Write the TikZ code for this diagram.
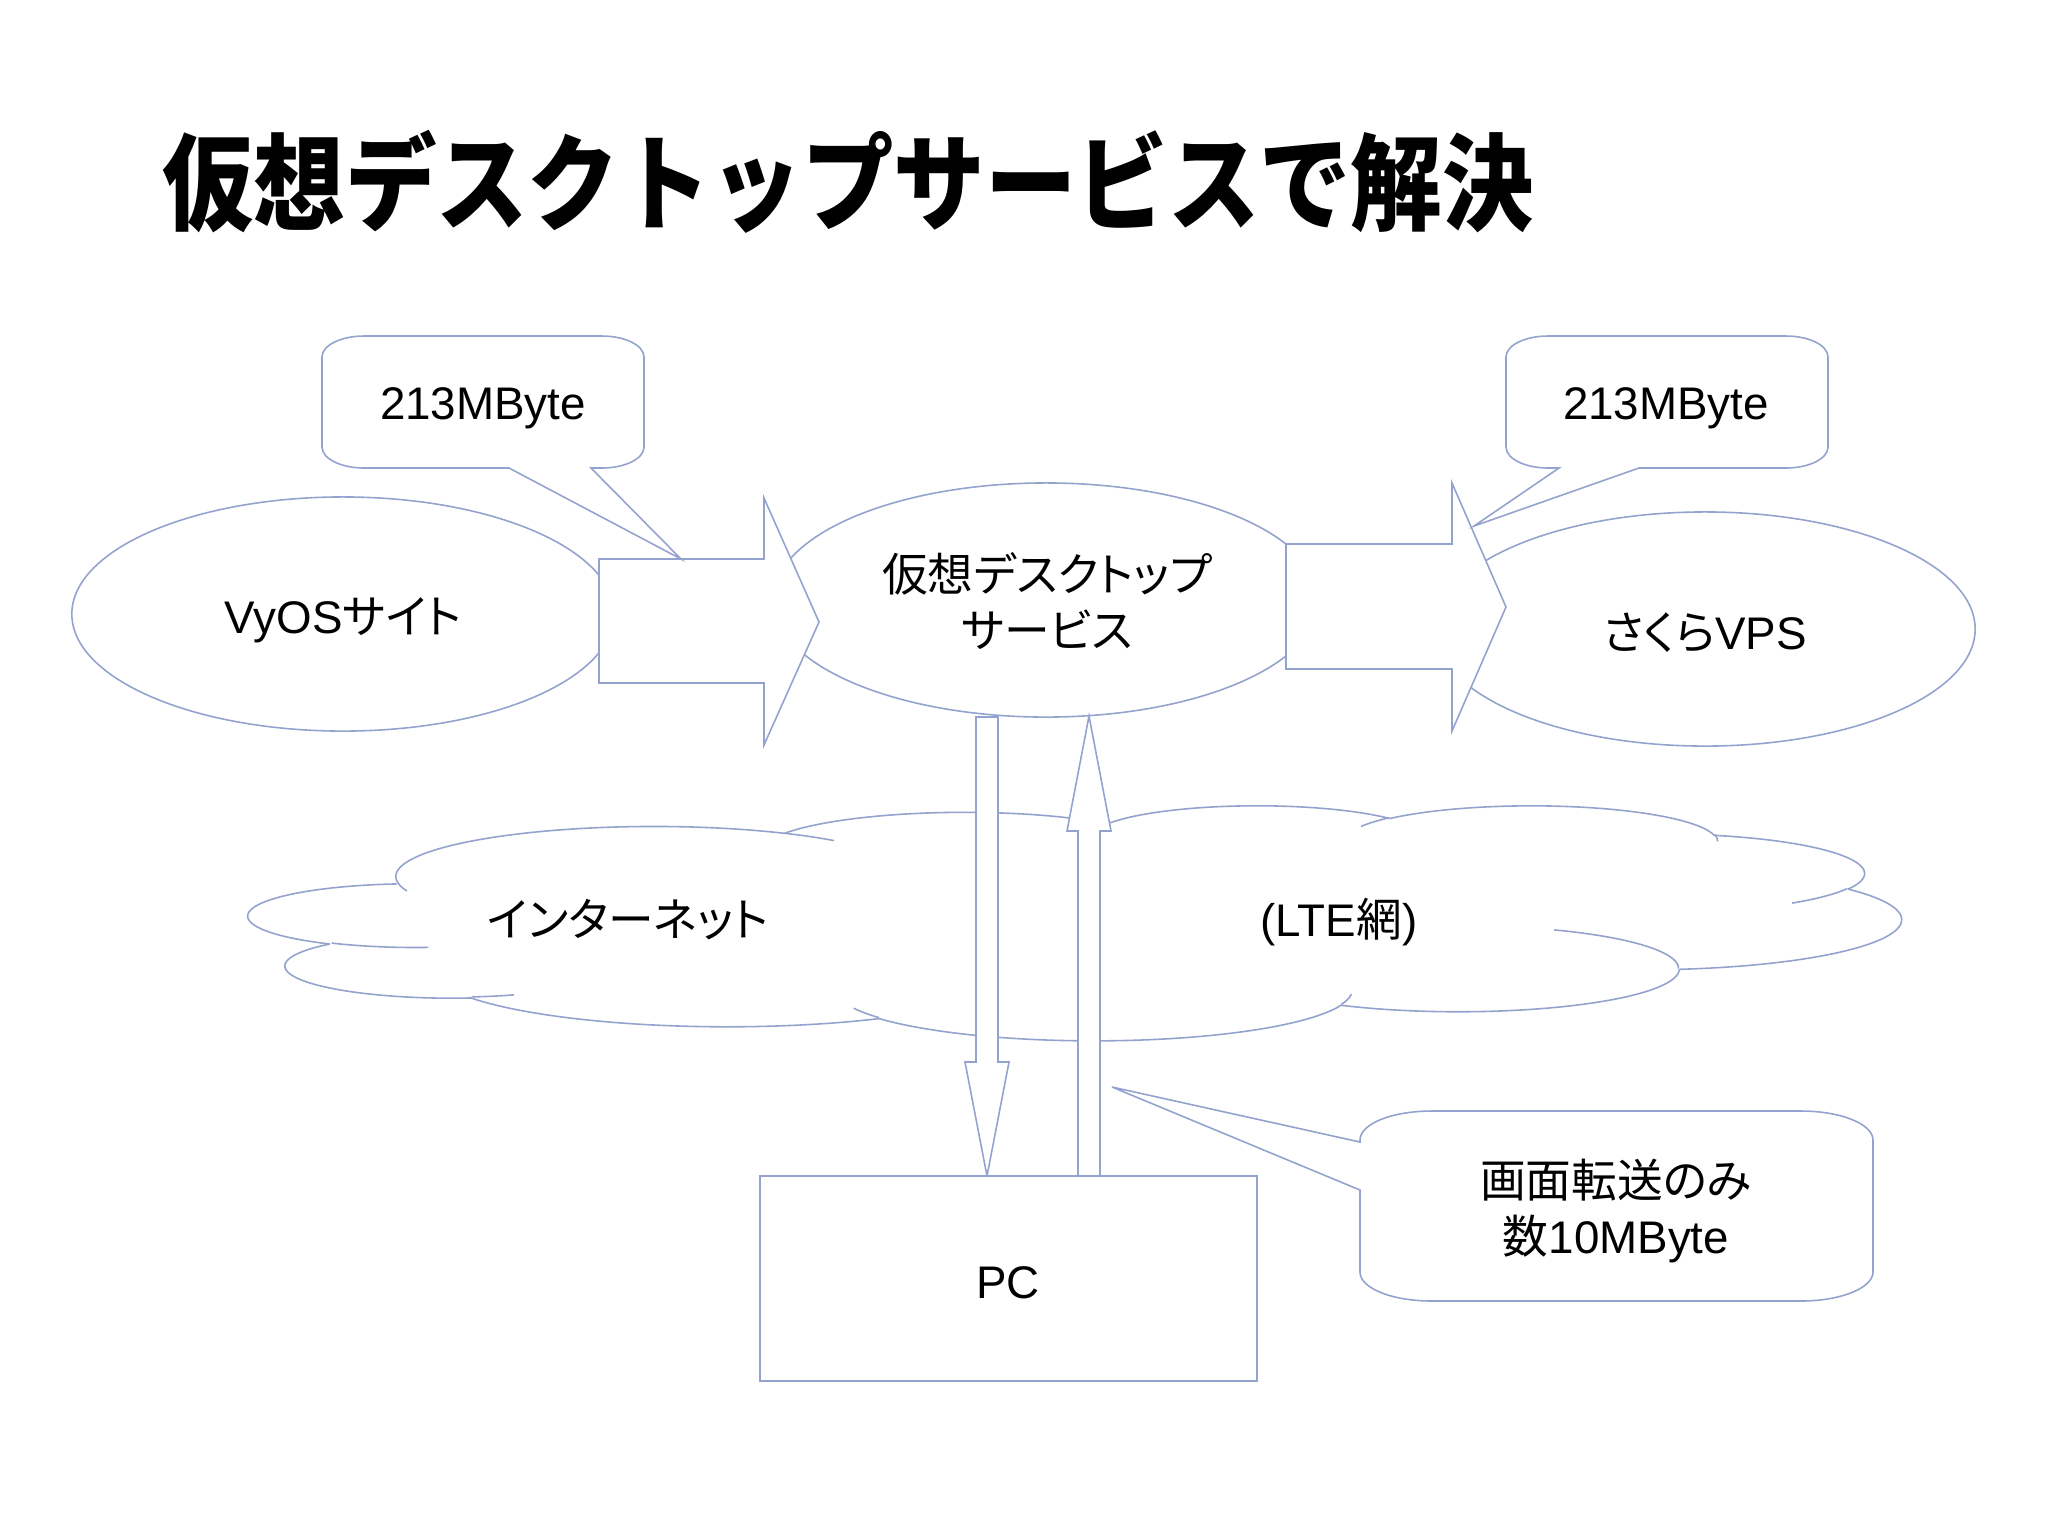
\documentclass[tikz,border=0pt]{standalone}
\usepackage{fontspec}
\usepackage{graphicx}
\setmainfont{Liberation Sans}
\newfontfamily\jp{Noto Sans CJK JP}[RawFeature=+palt]
\newfontfamily\jpt{Noto Sans CJK JP}
\usetikzlibrary{shapes.geometric}
\definecolor{lineblue}{RGB}{148,163,206}
% cloud (OOXML preset geometry, path space 43.2 x 43.2)
\newcommand\cloudX{249}
\newcommand\cloudY{805}
\newcommand\cloudSx{38.2407}
\newcommand\cloudSy{5.4398}
\newcommand\oomove[2]{\xdef\ooPx{#1}\xdef\ooPy{#2}}
\newcommand\ooarc[4]{%
  \pgfmathsetmacro\ooTs{atan2((#1)*sin(#3),(#2)*cos(#3))}%
  \pgfmathsetmacro\ooTeR{atan2((#1)*sin((#3)+(#4)),(#2)*cos((#3)+(#4)))}%
  \pgfmathsetmacro\ooDt{mod((\ooTeR)-(\ooTs)+720,360)}%
  \pgfmathsetmacro\ooTe{(\ooTs)+(\ooDt)}%
  \pgfmathsetmacro\ooCx{(\ooPx)-(#1)*cos(\ooTs)}%
  \pgfmathsetmacro\ooCy{(\ooPy)-(#2)*sin(\ooTs)}%
  \draw[cloudline] plot[domain=\ooTs:\ooTe,samples=40,smooth,variable=\t]
    ({\cloudX+\cloudSx*((\ooCx)+(#1)*cos(\t))},{\cloudY+\cloudSy*((\ooCy)+(#2)*sin(\t))});%
  \pgfmathsetmacro\ooPxN{(\ooCx)+(#1)*cos(\ooTe)}%
  \pgfmathsetmacro\ooPyN{(\ooCy)+(#2)*sin(\ooTe)}%
  \xdef\ooPx{\ooPxN}\xdef\ooPy{\ooPyN}%
}
\begin{document}
\begin{tikzpicture}[x=0.01cm,y=-0.01cm,
  shp/.style={draw=lineblue,line width=0.45pt,fill=white},
  cloudline/.style={draw=lineblue,line width=0.45pt},
  lbl/.style={font=\fontsize{13pt}{16pt}\selectfont,inner sep=0pt,align=center,text=black}]
\useasboundingbox (0,0) rectangle (2048,1535);
\fill[white] (0,0) rectangle (2048,1535);

% title
\node[inner sep=0pt] (title) at (848,182)
  {\scalebox{1}[1.15]{\fontsize{26pt}{30pt}\jpt\bfseries 仮想デスクトップサービスで解決}};

% ellipses
\node[shp,ellipse,minimum width=5.42cm,minimum height=2.34cm] (vyos) at (343,614) {};
\node[shp,ellipse,minimum width=5.46cm,minimum height=2.34cm] (vds) at (1046,600) {};
\node[shp,ellipse,minimum width=5.40cm,minimum height=2.34cm] (vps) at (1705,629) {};
\node[lbl] (vyosT) at (343,620) {VyOS{\jp サイト}};
\node[lbl] (vdsT) at (1047,601) {{\jp 仮想デスクトップ}\\{\jp サービス}};
\node[lbl] (vpsT) at (1705,633) {{\jp さくら}VPS};

% block arrows
\draw[shp] (599,559) -- (764,559) -- (764,498) -- (819,622) -- (764,745) -- (764,683) -- (599,683) -- cycle;
\draw[shp] (1286,544) -- (1452,544) -- (1452,483) -- (1506,607) -- (1452,731) -- (1452,669) -- (1286,669) -- cycle;

% top callouts
\draw[shp] (364,336) -- (602,336) .. controls (625.2,336) and (644,345.4) .. (644,357) -- (644,447)
  .. controls (644,458.6) and (625.2,468) .. (602,468) -- (591,468) -- (681,559) -- (509,468) -- (364,468)
  .. controls (340.8,468) and (322,458.6) .. (322,447) -- (322,357)
  .. controls (322,345.4) and (340.8,336) .. (364,336) -- cycle;
\node[lbl] (sizeL) at (483,408) {213MByte};
\draw[shp] (1548,336) -- (1786,336) .. controls (1809.2,336) and (1828,345.4) .. (1828,357) -- (1828,447)
  .. controls (1828,458.6) and (1809.2,468) .. (1786,468) -- (1639,468) -- (1474,526) -- (1559,468) -- (1548,468)
  .. controls (1524.8,468) and (1506,458.6) .. (1506,447) -- (1506,357)
  .. controls (1506,345.4) and (1524.8,336) .. (1548,336) -- cycle;
\node[lbl] (sizeR) at (1666,408) {213MByte};

% cloud outline
\oomove{3.9}{14.37}
\ooarc{6.753}{9.19}{-190.48748}{123.78053}
\ooarc{5.333}{7.267}{-144.10238}{89.94523}
\ooarc{4.365}{5.945}{-145.80792}{99.72302}
\ooarc{4.857}{6.595}{-130.98607}{117.24173}
\ooarc{5.333}{7.273}{-78.70888}{109.02692}
\ooarc{6.775}{9.22}{-46.26725}{130.269}
\ooarc{5.785}{7.867}{0.62502}{114.03333}
\ooarc{6.752}{9.215}{22.4516}{115.17255}
\ooarc{7.72}{10.543}{66.24263}{75.71102}
\ooarc{4.36}{5.918}{-274.94208}{146.73557}
\ooarc{4.345}{5.945}{-246.8285}{152.51885}
% cloud inner arcs
\oomove{4.693}{26.177}\ooarc{4.345}{5.945}{86.742}{26.4295}
\oomove{6.928}{34.899}\ooarc{4.36}{5.918}{73.61047}{11.44747}
\oomove{16.478}{39.09}\ooarc{6.752}{9.215}{137.62415}{14.0811}
\oomove{28.827}{34.751}\ooarc{6.752}{9.215}{6.45327}{15.99835}
\oomove{34.129}{22.954}\ooarc{5.785}{7.867}{-70.29235}{70.91737}
\oomove{41.798}{15.354}\ooarc{5.333}{7.273}{30.31803}{27.7515}
\oomove{38.324}{5.426}\ooarc{4.857}{6.595}{-13.74433}{14.8589}
\oomove{29.078}{3.952}\ooarc{4.857}{6.595}{-149.18145}{18.19537}
\oomove{22.141}{4.72}\ooarc{4.365}{5.945}{-163.49427}{17.68635}
\oomove{14.0}{5.192}\ooarc{6.753}{9.19}{-66.70695}{12.31935}
\oomove{4.127}{15.789}\ooarc{6.753}{9.19}{157.65435}{11.85817}
\node[lbl] (inet) at (628,920) {\jp インターネット};
\node[lbl] (lte) at (1339,922) {(LTE{\jp 網})};

% vertical arrows
\draw[shp] (976,717) -- (998,717) -- (998,1062) -- (1009,1062) -- (987,1176) -- (965,1062) -- (976,1062) -- cycle;
\draw[shp] (1078,1176) -- (1078,831) -- (1067,831) -- (1089,716) -- (1111,831) -- (1100,831) -- (1100,1176) -- cycle;

% PC
\node[shp,rectangle,minimum width=4.97cm,minimum height=2.05cm] (pc) at (1008.5,1278.5) {};
\node[lbl] (pcT) at (1008,1283) {PC};

% bottom callout
\draw[shp] (1432,1111) -- (1801,1111) .. controls (1840.7,1111) and (1873,1124) .. (1873,1140) -- (1873,1272)
  .. controls (1873,1288) and (1840.7,1301) .. (1801,1301) -- (1432,1301)
  .. controls (1391.3,1301) and (1360,1288) .. (1360,1272) -- (1360,1190) -- (1112,1087) -- (1360,1142) -- (1360,1140)
  .. controls (1360,1124) and (1391.3,1111) .. (1432,1111) -- cycle;
\node[lbl] (note) at (1616,1211) {{\jp 画面転送のみ}\\{\jp 数}10MByte};
\end{tikzpicture}
\end{document}
